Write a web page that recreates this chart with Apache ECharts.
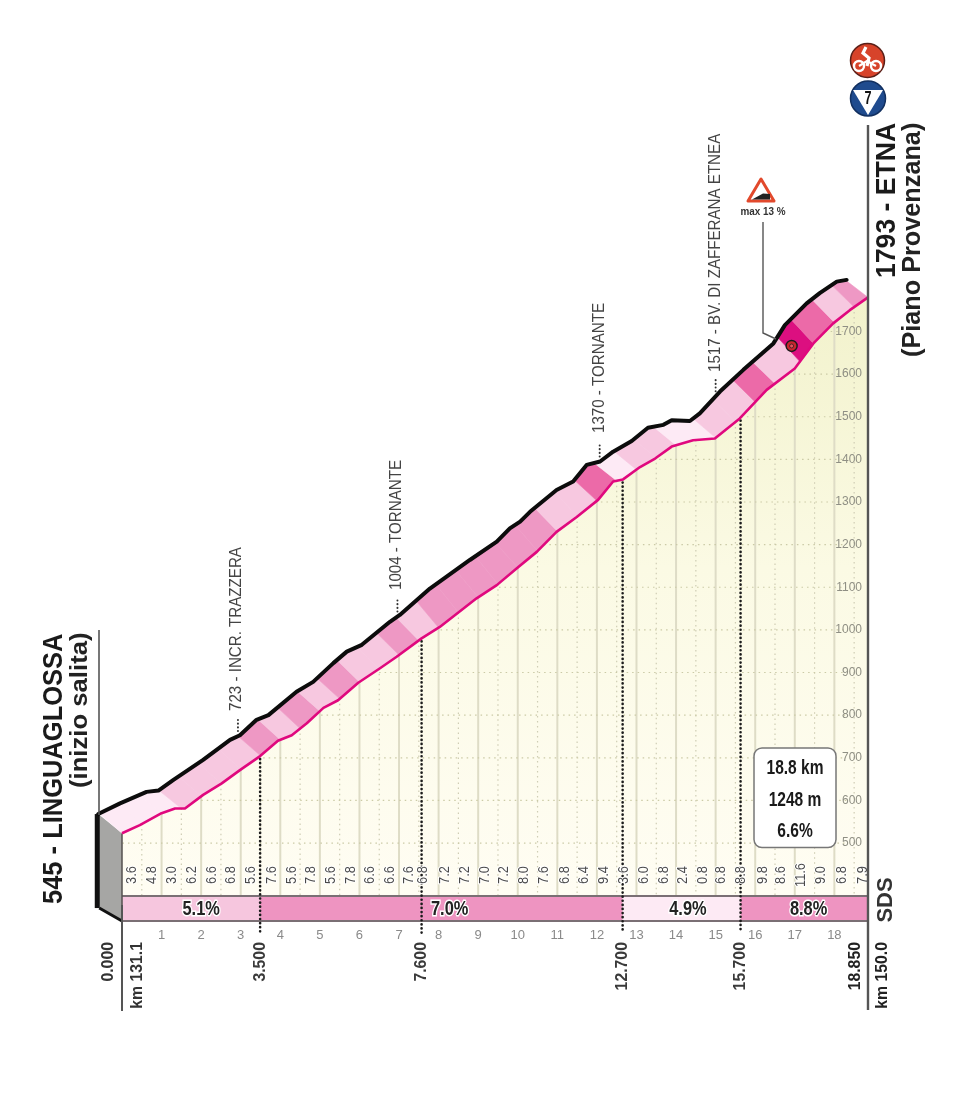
<!DOCTYPE html>
<html>
<head>
<meta charset="utf-8">
<style>html,body{margin:0;padding:0;background:#fff}#c{width:980px;height:1109px}</style>
<script src="https://cdn.jsdelivr.net/npm/echarts@6/dist/echarts.min.js"></script>
</head>
<body>
<div id="c"></div>
<script>
var SANS = '"Liberation Sans",sans-serif';

// lower (road) edge of the profile: [km, metres]
var lowerEdge = [[0,523],[0.45,542],[1,570],[1.34,581],[1.59,581],[2.05,613],[2.52,640],[2.98,671],[3.49,704],[3.94,740],[4.29,753],[4.67,781],[5.09,817],[5.46,835],[5.97,876],[6.52,910],[6.94,937],[7.57,980],[8.03,1007],[8.96,1074],[9.47,1105],[9.97,1144],[10.48,1183],[10.98,1230],[11.49,1265],[12.03,1305],[12.41,1348],[12.66,1353],[13.09,1382],[13.47,1402],[13.89,1430],[14.43,1445],[14.98,1449],[15.61,1496],[16.29,1563],[17,1613],[17.47,1672],[17.97,1719],[18.39,1750],[18.85,1780]];
// upper (black) edge of the profile ribbon
var upperEdge = [[-0.6,568],[-0.05,593],[0.62,620],[0.92,623],[1.3,648],[2.05,695],[2.73,742],[2.98,753],[3.4,789],[3.7,800],[4.41,855],[4.83,878],[5.34,922],[5.68,949],[6.06,965],[6.77,1019],[7.02,1035],[7.78,1097],[8.79,1164],[9.47,1207],[9.8,1238],[10.06,1254],[10.31,1277],[10.98,1328],[11.4,1348],[11.74,1387],[12.08,1395],[12.41,1418],[12.88,1443],[13.29,1474],[13.68,1481],[13.89,1492],[14.35,1490],[14.6,1508],[15.11,1559],[15.7,1610],[16.46,1672],[16.75,1715],[17.3,1766],[17.63,1790],[18.06,1817],[18.31,1821]];
// gradient (%) of each half kilometre
var halfKmGradients = ['3.6','4.8','3.0','6.2','6.6','6.8','5.6','7.6','5.6','7.8','5.6','7.8','6.6','6.6','7.6','6.8','7.2','7.2','7.0','7.2','8.0','7.6','6.8','6.4','9.4','3.6','6.0','6.8','2.4','0.8','6.8','8.8','9.8','8.6','11.6','9.0','6.8','7.9'];
var halfKmClasses = [0,0,0,1,1,1,1,2,1,2,1,2,1,1,2,1,2,2,2,2,2,2,1,1,3,0,1,1,0,0,1,1,3,1,4,3,1,2];
var classColours = ['#fdeaf5','#f7c8e0','#ee98c4','#ec6aa8','#dc0f80'];
var halfKmEnds = [0.5,1,1.5,2,2.5,3,3.5,4,4.5,5,5.5,6,6.5,7,7.5,8,8.5,9,9.5,10,10.5,11,11.5,12,12.5,13,13.5,14,14.5,15,15.5,16,16.5,17.13,17.47,18,18.5,18.85];
var gradientLabelKm = [0.25,0.75,1.26,1.76,2.26,2.76,3.26,3.78,4.28,4.78,5.28,5.78,6.26,6.76,7.24,7.6,8.16,8.66,9.16,9.66,10.16,10.66,11.18,11.68,12.18,12.68,13.18,13.7,14.16,14.67,15.13,15.64,16.2,16.66,17.16,17.67,18.18,18.73];
// climb sections
var sectionKm = [0,3.49,12.65,15.63,18.85];
var sectionPct = ['5.1%','7.0%','4.9%','8.8%'];
var sectionLabelKm = [2,8.28,14.3,17.35];
var sectionClass = ['#f6c6de','#ee94c1','#fdeaf4','#ee94c1'];
var splitKm = [3.49,7.57,12.65,15.63];
var splitLabels = ['3.500','7.600','12.700','15.700'];
var waypointKm = [2.93,6.96,12.07,15.0];
var waypointLabels = ['723 - INCR. TRAZZERA','1004 - TORNANTE','1370 - TORNANTE','1517 - BV. DI ZAFFERANA ETNEA'];
var elevationTicks = [500,600,700,800,900,1000,1100,1200,1300,1400,1500,1600,1700];
var summary = ['18.8 km','1248 m','6.6%'];
var maxSegmentKm = 16.92, maxSegmentM = 1666;

var GROUND = 378; // elevation at the top of the section strip

function interp(line, k){
  if (k <= line[0][0]) return line[0][1];
  for (var i=1;i<line.length;i++){
    if (k <= line[i][0]){
      var a=line[i-1], b=line[i];
      return a[1]+(b[1]-a[1])*(k-a[0])/(b[0]-a[0]);
    }
  }
  return line[line.length-1][1];
}
function slice(line,a,b){
  var out=[[a,interp(line,a)]];
  line.forEach(function(p){ if(p[0]>a && p[0]<b) out.push(p); });
  out.push([b,interp(line,b)]);
  return out;
}
function kmAtElevation(m){
  for (var i=1;i<lowerEdge.length;i++){
    var a=lowerEdge[i-1], b=lowerEdge[i];
    if (m<=b[1]) return a[0]+(b[0]-a[0])*(m-a[1])/(b[1]-a[1]);
  }
  return 18.85;
}
var RIBBON = 0.57;

function singleItem(renderFn, z){
  return {type:'custom', coordinateSystem:'cartesian2d', data:[[0,0]], silent:true, clip:false, z:z, renderItem:renderFn, animation:false};
}
function listItem(list, renderFn, z){
  return {type:'custom', coordinateSystem:'cartesian2d', data:Array.prototype.map.call(new Array(list.length).fill(0),function(v,i){return [i,0];}), silent:true, clip:false, z:z, renderItem:renderFn, animation:false};
}
function vText(x,y,text,font,fill,sx,align,extra){
  var st={text:text,x:0,y:0,font:font,fill:fill,align:align||'center',verticalAlign:'middle'};
  if(extra) for(var k in extra) st[k]=extra[k];
  return {type:'text',x:x,y:y,rotation:Math.PI/2,scaleX:sx||1,style:st};
}

var chart = echarts.init(document.getElementById('c'), null, {renderer:'canvas'});

var series = [];

// pale background beneath the profile
series.push(singleItem(function(p,api){
  var pts=lowerEdge.map(function(d){return api.coord(d);});
  pts.push(api.coord([18.85,GROUND])); pts.push(api.coord([0,GROUND]));
  return {type:'polygon',shape:{points:pts},style:{fill:new echarts.graphic.LinearGradient(0,300,0,895,[{offset:0,color:'#f2f2cc'},{offset:0.45,color:'#fbfae4'},{offset:1,color:'#fffdf3'}],true)}};
},1));

// vertical km lines
series.push(listItem(new Array(37),function(p,api){
  var k=(p.dataIndex+1)*0.5, whole=(p.dataIndex%2===1);
  var a=api.coord([k,interp(lowerEdge,k)]), b=api.coord([k,GROUND]);
  return {type:'line',shape:{x1:a[0],y1:a[1],x2:b[0],y2:b[1]},
    style: whole?{stroke:'#dedcc6',lineWidth:2}:{stroke:'#cfcdb4',lineWidth:1.2,lineDash:[1.5,3.5]}};
},2));

// horizontal 100 m lines
series.push(listItem(elevationTicks,function(p,api){
  var m=elevationTicks[p.dataIndex];
  var a=api.coord([kmAtElevation(m),m]), b=api.coord([18.3,m]);
  return {type:'line',shape:{x1:a[0],y1:a[1],x2:b[0],y2:b[1]},
    style:{stroke:'#cbcaa6',lineWidth:1.2,lineDash:[1.5,4]}};
},2));

// section strip
series.push(listItem(sectionPct,function(p,api){
  var i=p.dataIndex;
  var a=api.coord([sectionKm[i],GROUND]), b=api.coord([sectionKm[i+1],GROUND]);
  return {type:'rect',shape:{x:a[0],y:a[1]+1,width:b[0]-a[0],height:25},style:{fill:sectionClass[i]}};
},3));
series.push(singleItem(function(p,api){
  var a=api.coord([0,GROUND]), b=api.coord([18.85,GROUND]);
  return {type:'group',children:[
    {type:'line',shape:{x1:a[0],y1:a[1]+1,x2:b[0],y2:b[1]+1},style:{stroke:'#7a6f74',lineWidth:2}},
    {type:'line',shape:{x1:a[0],y1:a[1]+26,x2:b[0],y2:b[1]+26},style:{stroke:'#7a6f74',lineWidth:2}}
  ]};
},4));
series.push(listItem(sectionPct,function(p,api){
  var c=api.coord([sectionLabelKm[p.dataIndex],GROUND]);
  return {type:'text',x:c[0],y:c[1]+14,scaleX:0.82,style:{text:sectionPct[p.dataIndex],x:0,y:0,font:'bold 20px '+SANS,fill:'#222',align:'center',verticalAlign:'middle',stroke:'#fff',lineWidth:3,strokeFirst:true}};
},8));

// start wall
series.push(singleItem(function(p,api){
  var top=api.coord([-0.6,568]), foot=api.coord([0,523]), base=api.coord([0,GROUND]);
  var wallBottom=[top[0]+1, base[1]+13];
  var corner=[foot[0],base[1]+26];
  return {type:'group',children:[
    {type:'polygon',shape:{points:[top,foot,corner,wallBottom]},style:{fill:'#a6a6a4'}},
    {type:'line',shape:{x1:corner[0],y1:corner[1],x2:wallBottom[0],y2:wallBottom[1]},style:{stroke:'#111',lineWidth:3}},
    {type:'line',shape:{x1:top[0]-1,y1:top[1],x2:wallBottom[0]-2,y2:wallBottom[1]},style:{stroke:'#111',lineWidth:5}},
    {type:'line',shape:{x1:foot[0],y1:foot[1],x2:corner[0],y2:corner[1]},style:{stroke:'#55504f',lineWidth:1.5}}
  ]};
},5));

// ribbon: one slanted parallelogram per half kilometre
series.push(listItem(halfKmClasses,function(p,api){
  var i=p.dataIndex;
  var k1=halfKmEnds[i], k0=i?halfKmEnds[i-1]:0;
  var low=slice(lowerEdge,k0,k1);
  var up=slice(upperEdge,k0-RIBBON,k1-RIBBON).reverse();
  var pts=low.concat(up).map(function(d){return api.coord(d);});
  var col=classColours[halfKmClasses[i]];
  return {type:'polygon',shape:{points:pts},style:{fill:col,stroke:col,lineWidth:0.6}};
},6));

// bold dotted lines at the section breaks
series.push(listItem(splitLabels,function(p,api){
  var k=splitKm[p.dataIndex];
  var a=api.coord([k,interp(lowerEdge,k)]), b=api.coord([k,GROUND]);
  return {type:'group',children:[
    {type:'line',shape:{x1:a[0],y1:a[1]+3,x2:b[0],y2:b[1]+38},style:{stroke:'#1c1c1c',lineWidth:2.6,lineDash:[0.1,4],lineCap:'round'}},
    vText(a[0],b[1]+47,splitLabels[p.dataIndex],'bold 17px '+SANS,'#3a3a3a',0.93,'right')
  ]};
},7));

// gradient readings
series.push(listItem(halfKmGradients,function(p,api){
  var c=api.coord([gradientLabelKm[p.dataIndex],GROUND]);
  return vText(c[0],c[1]-20,halfKmGradients[p.dataIndex],'15px '+SANS,'#4a4a4a',0.85,'center',{stroke:'#fff',lineWidth:2,strokeFirst:true});
},8));

// waypoint stubs
series.push(listItem(waypointKm,function(p,api){
  var k=waypointKm[p.dataIndex], m=interp(upperEdge,k);
  var c=api.coord([k,m]);
  return {type:'line',shape:{x1:c[0],y1:c[1]-5,x2:c[0],y2:c[1]-19},style:{stroke:'#333',lineWidth:2,lineDash:[0.1,3.6],lineCap:'round'}};
},7));

// profile edges
series.push(singleItem(function(p,api){
  return {type:'polyline',shape:{points:upperEdge.map(function(d){return api.coord(d);})},style:{stroke:'#0c0c0c',lineWidth:4,fill:'none',lineCap:'round',lineJoin:'round'}};
},9));
series.push({type:'line',data:lowerEdge,showSymbol:false,symbol:'none',clip:false,silent:true,z:9,animation:false,lineStyle:{color:'#e0087e',width:2.6,join:'round'}});

// steepest point marker
series.push(singleItem(function(p,api){
  var c=api.coord([maxSegmentKm,maxSegmentM]);
  return {type:'group',children:[
    {type:'circle',shape:{cx:c[0],cy:c[1],r:5.5},style:{fill:'#c8252d',stroke:'#1b1b1b',lineWidth:1.4}},
    {type:'circle',shape:{cx:c[0],cy:c[1],r:2},style:{fill:'#e9505a',stroke:'#1b1b1b',lineWidth:0.7}}
  ]};
},10));

// static page furniture: rotated titles, rules, icons, box
var graphics = [];
function gLine(x1,y1,x2,y2,col,w){ graphics.push({type:'line',silent:true,z:20,shape:{x1:x1,y1:y1,x2:x2,y2:y2},style:{stroke:col,lineWidth:w}}); }
function gVText(x,y,t,font,fill,sx,align){ graphics.push({type:'text',silent:true,z:20,x:x,y:y,rotation:Math.PI/2,scaleX:sx||1,style:{text:t,x:0,y:0,font:font,fill:fill,align:align||'left',verticalAlign:'middle'}}); }
function gText(x,y,t,font,fill,sx,z){ graphics.push({type:'text',silent:true,z:z||20,x:x,y:y,scaleX:sx||1,style:{text:t,x:0,y:0,font:font,fill:fill,align:'center',verticalAlign:'middle'}}); }

gLine(99,630,99,815,'#555',1.6);
gLine(122,905,122,1011,'#555',2);
gLine(868,125,868,1010,'#555',2.4);

gVText(54,904,'545 - LINGUAGLOSSA','bold 28px '+SANS,'#1a1a1a',0.91);
gVText(80,788,'(inizio salita)','bold 24px '+SANS,'#222',1.07);
gVText(887,278,'1793 - ETNA','bold 28px '+SANS,'#1a1a1a',0.95);
gVText(913,357,'(Piano Provenzana)','bold 25px '+SANS,'#222',1.01);

gVText(108,942,'0.000','bold 17px '+SANS,'#333',0.93,'right');
gVText(137,942,'km 131.1','bold 17px '+SANS,'#333',0.93,'right');
gVText(855,942,'18.850','bold 17px '+SANS,'#222',0.93,'right');
gVText(882,942,'km 150.0','bold 17px '+SANS,'#222',0.93,'right');

gVText(236,711,waypointLabels[0],'17px '+SANS,'#444',0.89);
gVText(396,590,waypointLabels[1],'17px '+SANS,'#444',0.89);
gVText(599,433,waypointLabels[2],'17px '+SANS,'#444',0.89);
gVText(715,372,waypointLabels[3],'17px '+SANS,'#444',0.89);

// SDS logo text
gVText(886,900,'SDS','bold 22px '+SANS,'#333',1,'center');

// summary box
graphics.push({type:'rect',silent:true,z:20,shape:{x:754,y:748,width:82,height:99.5,r:8},style:{fill:'#fff',stroke:'#777',lineWidth:1.5}});
gText(795,768,summary[0],'bold 21px '+SANS,'#1a1a1a',0.74);
gText(795,800,summary[1],'bold 21px '+SANS,'#1a1a1a',0.74);
gText(795,831,summary[2],'bold 21px '+SANS,'#1a1a1a',0.74);

// warning sign
graphics.push({type:'polygon',silent:true,z:20,shape:{points:[[761,179],[748,201],[774,201]]},style:{fill:'#fff',stroke:'#e2492c',lineWidth:3,lineJoin:'round'}});
graphics.push({type:'polygon',silent:true,z:21,shape:{points:[[752,199.5],[770,199.5],[770,194],[763,193.5]]},style:{fill:'#222'}});
gText(763,212,'max 13 %','bold 11px '+SANS,'#333',0.9);
graphics.push({type:'polyline',silent:true,z:20,shape:{points:[[763,222],[763,333],[776,339]]},style:{stroke:'#555',lineWidth:1.4,fill:'none'}});

// stage icons
graphics.push({type:'circle',silent:true,z:20,shape:{cx:867.5,cy:60.5,r:17},style:{fill:'#d7432a',stroke:'#5a1f18',lineWidth:1.5}});
graphics.push({type:'circle',silent:true,z:21,shape:{cx:859,cy:66,r:5},style:{fill:'none',stroke:'#fff',lineWidth:2.4}});
graphics.push({type:'circle',silent:true,z:21,shape:{cx:876,cy:66,r:5},style:{fill:'none',stroke:'#fff',lineWidth:2.4}});
graphics.push({type:'polyline',silent:true,z:21,shape:{points:[[866,47],[863,53],[869,58],[867,66]]},style:{stroke:'#fff',lineWidth:3.2,fill:'none'}});
graphics.push({type:'polyline',silent:true,z:21,shape:{points:[[859,66],[867,61],[876,66]]},style:{stroke:'#fff',lineWidth:2.2,fill:'none'}});
graphics.push({type:'circle',silent:true,z:20,shape:{cx:868,cy:98.5,r:17.5},style:{fill:'#1f4b8e',stroke:'#123060',lineWidth:1.5}});
graphics.push({type:'polygon',silent:true,z:21,shape:{points:[[853,90],[883,90],[868,115]]},style:{fill:'#fff'}});
gText(868,99,'7','bold 18px '+SANS,'#111',0.7,22);

chart.setOption({
  animation:false,
  backgroundColor:'#fff',
  grid:{left:122,right:112,top:75.7,bottom:180.7,containLabel:false},
  xAxis:{
    type:'value',min:0,max:18.85,interval:1,z:5,
    axisLine:{show:false},axisTick:{show:false},splitLine:{show:false},
    axisLabel:{show:true,margin:1,showMinLabel:false,showMaxLabel:false,color:'#8a8a8a',fontFamily:SANS,fontSize:13,
      formatter:function(v){return (v%1===0&&v>0&&v<19)?String(v):'';}}
  },
  yAxis:{
    type:'value',position:'right',min:300,max:2300,interval:100,z:5,
    axisLine:{show:false},axisTick:{show:false},splitLine:{show:false},
    axisLabel:{show:true,inside:true,margin:6,color:'#8f8f84',fontFamily:SANS,fontSize:12,
      formatter:function(v){return elevationTicks.indexOf(v)>=0?String(v):'';}}
  },
  series:series,
  graphic:{elements:graphics}
});
</script>
</body>
</html>
